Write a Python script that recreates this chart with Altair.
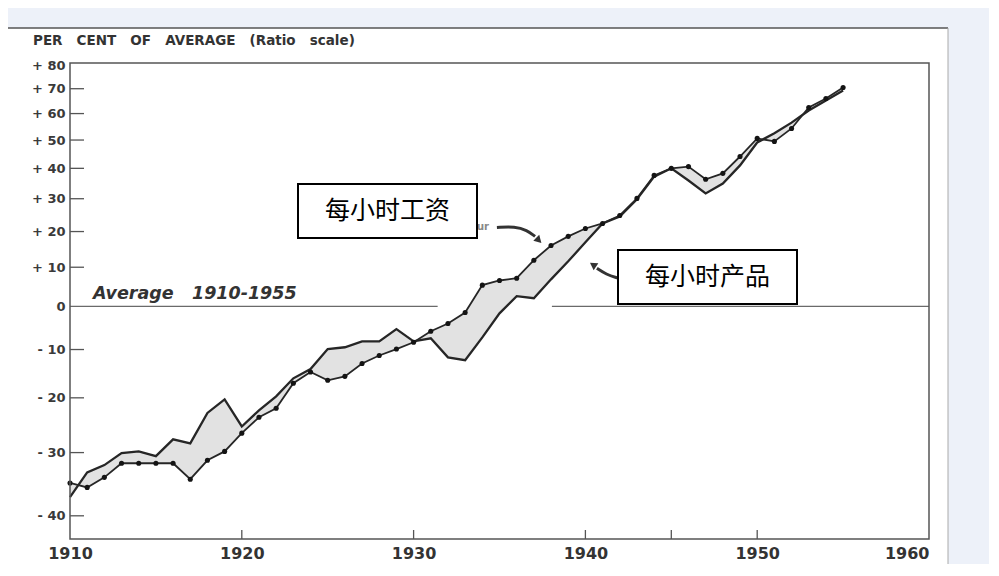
import altair as alt
import pandas as pd

# ---------------- data (per cent of 1910-1955 average, ratio scale) ----------------
years = list(range(1910, 1956))
wages_per_hour = [-35.0, -35.7, -34.1, -31.8, -31.8, -31.8, -31.8, -34.4, -31.3, -29.8,
                  -26.6, -23.7, -22.0, -17.1, -14.8, -16.5, -15.7, -13.0, -11.3, -9.9,
                  -8.4, -5.9, -4.1, -1.5, 5.3, 6.5, 7.1, 11.9, 16.0, 18.6,
                  20.9, 22.4, 24.8, 30.1, 37.6, 40.0, 40.6, 36.3, 38.3, 44.1,
                  50.6, 49.5, 54.3, 62.4, 66.0, 70.5]
output_per_hour = [-37.2, -33.3, -32.1, -30.1, -29.8, -30.6, -27.7, -28.4, -22.9, -20.3,
                   -25.4, -22.4, -19.7, -16.1, -14.2, -9.9, -9.5, -8.2, -8.2, -5.4,
                   -8.2, -7.5, -11.7, -12.3, -7.3, -1.7, 2.5, 2.0, 6.8, 11.6,
                   16.9, 22.4, 24.5, 29.8, 37.2, 40.0, 35.9, 31.7, 34.9, 41.0,
                   49.1, 52.5, 56.5, 61.2, 65.2, 69.3]

x_tick_labels = [1910, 1920, 1930, 1940, 1950, 1960]
x_inner_ticks = [1920, 1930, 1940, 1945, 1950]
y_tick_labels = [60, 70, 80, 90, 100, 110, 120, 130, 140, 150, 160, 170, 180]
y_inner_ticks = [60, 70, 80, 90, 110, 120, 130, 140, 150, 160, 170]

# "Average 1910-1955" reference line segments (interrupted where the curves pass)
avg_seg_start = [1910.0, 1938.05]
avg_seg_end = [1931.4, 1960.0]

# annotation arrows (year, per cent)
arrow_wage_x = [1934.85, 1935.90, 1936.60, 1937.07]
arrow_wage_y = [21.2, 21.5, 20.4, 18.6]
arrow_wage_head = (1937.24, 17.7)
arrow_out_x = [1941.90, 1941.20, 1940.67]
arrow_out_y = [7.1, 8.1, 9.7]
arrow_out_head = (1940.50, 10.5)

NB = "\u00a0"
GAP = " " + NB + NB
label_wages = "每小时工资"
label_output = "每小时产品"
y_title = GAP.join(["PER", "CENT", "OF", "AVERAGE", "(Ratio", "scale)"])
avg_text = "Average" + " " + NB * 2 + "1910-1955"

# ---------------- chart ----------------
W, H = 859, 476
INK = "#262626"

df = pd.DataFrame({"year": years, "wages": wages_per_hour, "output": output_per_hour})
df["w"] = 100 + df["wages"]
df["o"] = 100 + df["output"]

xs = alt.Scale(domain=[1910, 1960], nice=False, zero=False)
ys = alt.Scale(type="log", domain=[56.7, 181], nice=False, zero=False)

xaxis = alt.Axis(values=x_tick_labels, format="d", labelFontSize=16, labelFontWeight="bold",
                 labelFont="DejaVu Sans", labelColor="#333", ticks=False, tickSize=0,
                 domain=False, grid=False, labelPadding=6, title=None, zindex=1,
                 labelOverlap=False, labelBound=False, labelFlush=False,
                 labelAlign={"condition": {"test": "datum.value >= 1960", "value": "right"},
                             "value": "center"})
yaxis = alt.Axis(values=y_tick_labels, labelFontSize=13, labelFontWeight="bold",
                 labelFont="DejaVu Sans", labelColor="#3a3a3a", ticks=False, tickSize=0,
                 domain=False, grid=False, labelPadding=5, title=None, zindex=1,
                 labelOverlap=False,
                 labelExpr="datum.value == 100 ? '0' : (datum.value > 100 ? '+ ' + format(datum.value - 100, 'd') : '- ' + format(100 - datum.value, 'd'))")


def X(f):
    return alt.X(f, type="quantitative", scale=xs, axis=xaxis)


def Y(f):
    return alt.Y(f, type="quantitative", scale=ys, axis=yaxis)


one = pd.DataFrame({"a": [0]})

scan_bg = alt.Chart(one).mark_rect(color="white").encode(
    x=alt.value(-62), x2=alt.value(878), y=alt.value(-35), y2=alt.value(520))
scan_top = alt.Chart(one).mark_rule(color="#555", strokeWidth=1.5).encode(
    x=alt.value(-62), x2=alt.value(878), y=alt.value(-35))
scan_right = alt.Chart(one).mark_rule(color="#aaa", strokeWidth=1).encode(
    x=alt.value(878), y=alt.value(-35), y2=alt.value(520))

area = alt.Chart(df).mark_area(color="#e2e2e2").encode(x=X("year"), y=Y("w"), y2="o:Q")

avg_df = pd.DataFrame({"x0": avg_seg_start, "x1": avg_seg_end, "v": [100] * len(avg_seg_start)})
avg_line = alt.Chart(avg_df).mark_rule(color="#6a6a6a", strokeWidth=1.3).encode(
    x=X("x0"), x2="x1:Q", y=Y("v"))

out_line = alt.Chart(df).mark_line(color=INK, strokeWidth=2.3).encode(x=X("year"), y=Y("o"))
wage_line = alt.Chart(df).mark_line(color=INK, strokeWidth=1.8).encode(x=X("year"), y=Y("w"))
wage_dots = alt.Chart(df).mark_circle(color="#141414", size=26, opacity=1).encode(
    x=X("year"), y=Y("w"))

frame = alt.Chart(one).mark_rect(fillOpacity=0, stroke="#555", strokeWidth=1.5).encode(
    x=alt.value(0), x2=alt.value(W), y=alt.value(0), y2=alt.value(H))

xt = alt.Chart(pd.DataFrame({"t": x_inner_ticks})).mark_rule(color="#555", strokeWidth=1.3).encode(
    x=X("t"), y=alt.value(H), y2=alt.value(H - 9))
yt = alt.Chart(pd.DataFrame({"t": y_inner_ticks})).mark_rule(color="#555", strokeWidth=1.3).encode(
    y=Y("t"), x=alt.value(0), x2=alt.value(14))

title_txt = alt.Chart(one).mark_text(text=y_title, align="left", baseline="middle",
                                     font="DejaVu Sans", fontSize=13.5, fontWeight="bold",
                                     color="#333").encode(x=alt.value(-37), y=alt.value(-22))
avg_txt = alt.Chart(one).mark_text(text=avg_text, align="left", baseline="middle",
                                   font="DejaVu Sans", fontSize=17.5, fontWeight="bold",
                                   fontStyle="italic", color="#333").encode(
    x=alt.value(23), y=alt.value(231))
ur_txt = alt.Chart(one).mark_text(text="ur", align="center", baseline="middle",
                                  font="DejaVu Sans", fontSize=10, fontWeight="bold",
                                  color="#888").encode(x=alt.value(413), y=alt.value(164))

arr1_df = pd.DataFrame({"x": arrow_wage_x, "y": [100 + v for v in arrow_wage_y],
                        "i": list(range(len(arrow_wage_x)))})
arr2_df = pd.DataFrame({"x": arrow_out_x, "y": [100 + v for v in arrow_out_y],
                        "i": list(range(len(arrow_out_x)))})
arr1 = alt.Chart(arr1_df).mark_line(color="#333", strokeWidth=3, interpolate="basis").encode(
    x=X("x"), y=Y("y"), order="i:Q")
arr2 = alt.Chart(arr2_df).mark_line(color="#333", strokeWidth=3, interpolate="basis").encode(
    x=X("x"), y=Y("y"), order="i:Q")
head1 = alt.Chart(pd.DataFrame({"x": [arrow_wage_head[0]], "y": [100 + arrow_wage_head[1]]})).mark_point(
    shape="triangle", filled=True, size=70, angle=135, color="#333", opacity=1).encode(
    x=X("x"), y=Y("y"))
head2 = alt.Chart(pd.DataFrame({"x": [arrow_out_head[0]], "y": [100 + arrow_out_head[1]]})).mark_point(
    shape="triangle", filled=True, size=70, angle=304, color="#333", opacity=1).encode(
    x=X("x"), y=Y("y"))

box1 = alt.Chart(one).mark_rect(fill="white", stroke="black", strokeWidth=2).encode(
    x=alt.value(228), x2=alt.value(407), y=alt.value(121), y2=alt.value(175))
box2 = alt.Chart(one).mark_rect(fill="white", stroke="black", strokeWidth=2).encode(
    x=alt.value(548), x2=alt.value(727), y=alt.value(187), y2=alt.value(241))
t1 = alt.Chart(one).mark_text(text=label_wages, align="center", baseline="middle",
                              font="Noto Sans CJK SC", fontSize=25, color="black").encode(
    x=alt.value(317.5), y=alt.value(148))
t2 = alt.Chart(one).mark_text(text=label_output, align="center", baseline="middle",
                              font="Noto Sans CJK SC", fontSize=25, color="black").encode(
    x=alt.value(637.5), y=alt.value(214))

chart = alt.layer(
    scan_bg, scan_top, scan_right, area, avg_line, out_line, wage_line, wage_dots,
    frame, xt, yt, title_txt, avg_txt, ur_txt, arr1, arr2, head1, head2,
    box1, box2, t1, t2
).properties(
    width=W, height=H,
    autosize=alt.AutoSizeParams(type="none"),
    padding={"left": 62, "top": 55, "right": 60, "bottom": 25},
    background="#edf1f9",
).configure_view(stroke=None)

chart.save("out.html", embed_options={"renderer": "svg", "actions": False})
